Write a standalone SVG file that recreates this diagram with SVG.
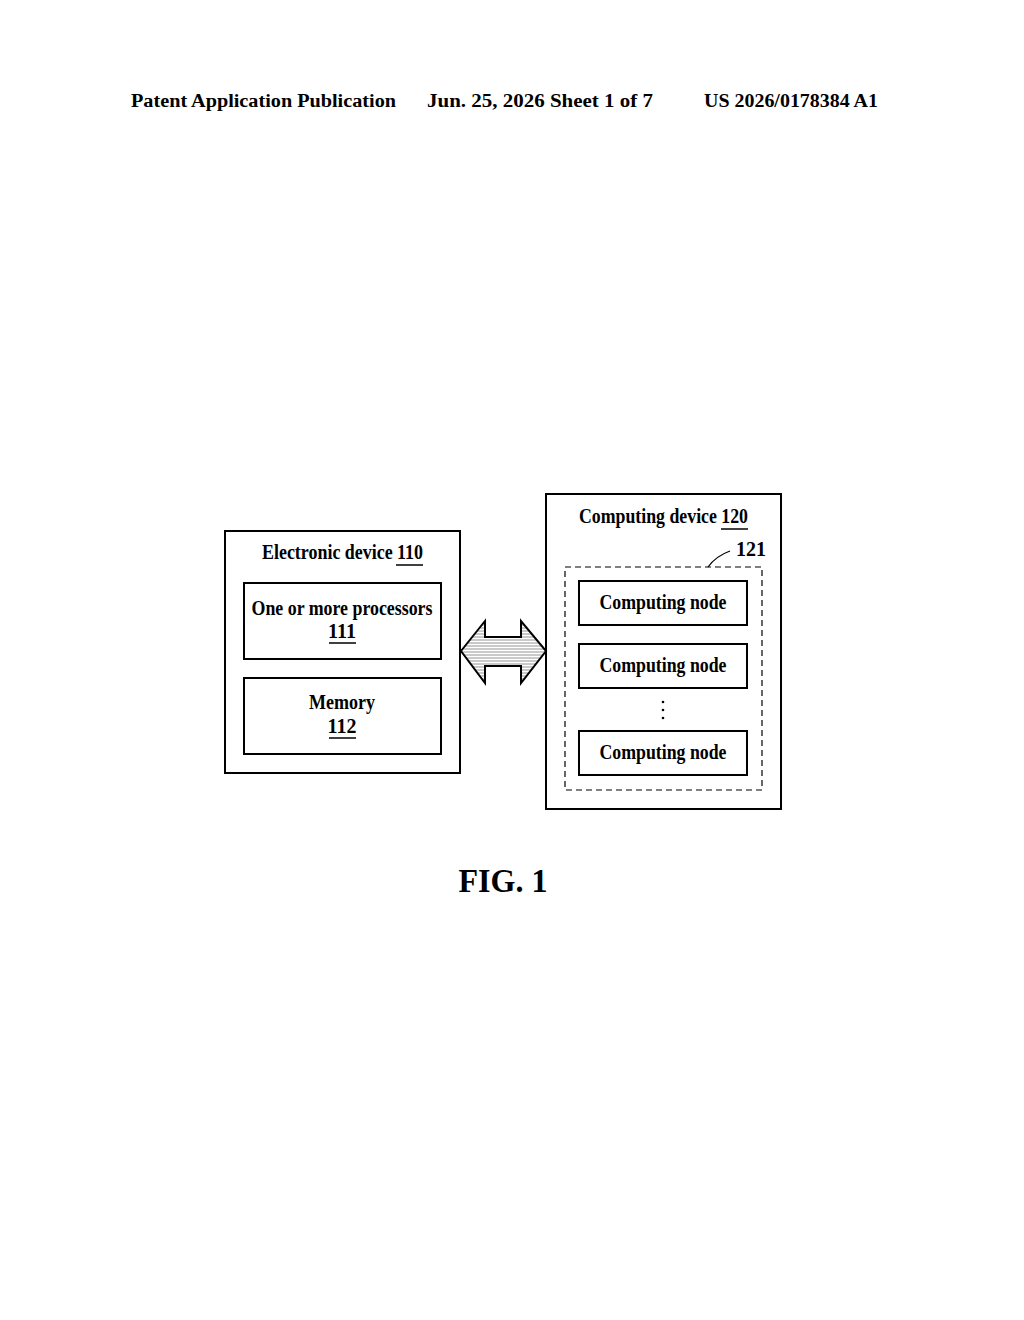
<svg xmlns="http://www.w3.org/2000/svg" width="1024" height="1320" viewBox="0 0 1024 1320">
<style>
text{font-family:"Liberation Serif",serif;font-weight:bold;fill:#000}
.h{font-size:18px}
.t{font-size:20px}
.box{fill:#fff;stroke:#000;stroke-width:2}
.ul{stroke:#000;stroke-width:1.5}
</style>
<defs>
<pattern id="hatch" width="4" height="3" patternUnits="userSpaceOnUse"><rect width="4" height="3" fill="#fff"/><line x1="0" y1="1" x2="4" y2="1" stroke="#777" stroke-width="0.8"/></pattern>
</defs>
<rect width="1024" height="1320" fill="#fff"/>
<text class="h" x="131" y="107" textLength="265" lengthAdjust="spacingAndGlyphs">Patent Application Publication</text>
<text class="h" x="427" y="107" textLength="226" lengthAdjust="spacingAndGlyphs">Jun. 25, 2026  Sheet 1 of 7</text>
<text class="h" x="704" y="107" textLength="174" lengthAdjust="spacingAndGlyphs">US 2026/0178384 A1</text>

<g id="electronic-device">
<rect class="box" x="225" y="531" width="235" height="242" stroke-width="2.5"/>
<text class="t" x="262" y="559" textLength="161" lengthAdjust="spacingAndGlyphs">Electronic device 110</text>
<line class="ul" x1="396" y1="565" x2="423" y2="565"/>
</g>
<g id="processors">
<rect class="box" x="244" y="583" width="197" height="76"/>
<text class="t" x="342" y="615" text-anchor="middle" textLength="181" lengthAdjust="spacingAndGlyphs">One or more processors</text>
<text class="t" x="342" y="638" text-anchor="middle">111</text>
<line class="ul" x1="329" y1="643" x2="356" y2="643"/>
</g>
<g id="memory">
<rect class="box" x="244" y="678" width="197" height="76"/>
<text class="t" x="342" y="709" text-anchor="middle" textLength="66" lengthAdjust="spacingAndGlyphs">Memory</text>
<text class="t" x="342" y="733" text-anchor="middle">112</text>
<line class="ul" x1="329" y1="738" x2="356" y2="738"/>
</g>

<g id="computing-device">
<rect class="box" x="546" y="494" width="235" height="315" stroke-width="2.5"/>
<text class="t" x="579" y="523" textLength="169" lengthAdjust="spacingAndGlyphs">Computing device 120</text>
<line class="ul" x1="721" y1="529" x2="748" y2="529"/>
</g>
<g id="group-121">
<rect x="565" y="567" width="197" height="223" fill="none" stroke="#000" stroke-width="1.2" stroke-dasharray="6,4"/>
<path d="M708,567 Q716,556 730,551" fill="none" stroke="#000" stroke-width="1.2"/>
<text class="t" x="736" y="556" font-size="19">121</text>
</g>
<g id="node-1">
<rect class="box" x="579" y="581" width="168" height="44"/>
<text class="t" x="663" y="609" text-anchor="middle" textLength="127" lengthAdjust="spacingAndGlyphs">Computing node</text>
</g>
<g id="node-2">
<rect class="box" x="579" y="644" width="168" height="44"/>
<text class="t" x="663" y="672" text-anchor="middle" textLength="127" lengthAdjust="spacingAndGlyphs">Computing node</text>
</g>
<g id="ellipsis">
<circle cx="663" cy="702" r="1.3"/><circle cx="663" cy="710" r="1.3"/><circle cx="663" cy="718" r="1.3"/>
</g>
<g id="node-3">
<rect class="box" x="579" y="731" width="168" height="44"/>
<text class="t" x="663" y="759" text-anchor="middle" textLength="127" lengthAdjust="spacingAndGlyphs">Computing node</text>
</g>

<g id="connectors">
<path d="M461,651 L485,621 L485,637 L521,637 L521,621 L546,651 L521,683 L521,666 L485,666 L485,683 Z" fill="url(#hatch)" stroke="#000" stroke-width="2"/>
</g>

<text x="503" y="892" text-anchor="middle" font-size="34" textLength="89" lengthAdjust="spacingAndGlyphs">FIG. 1</text>
</svg>
